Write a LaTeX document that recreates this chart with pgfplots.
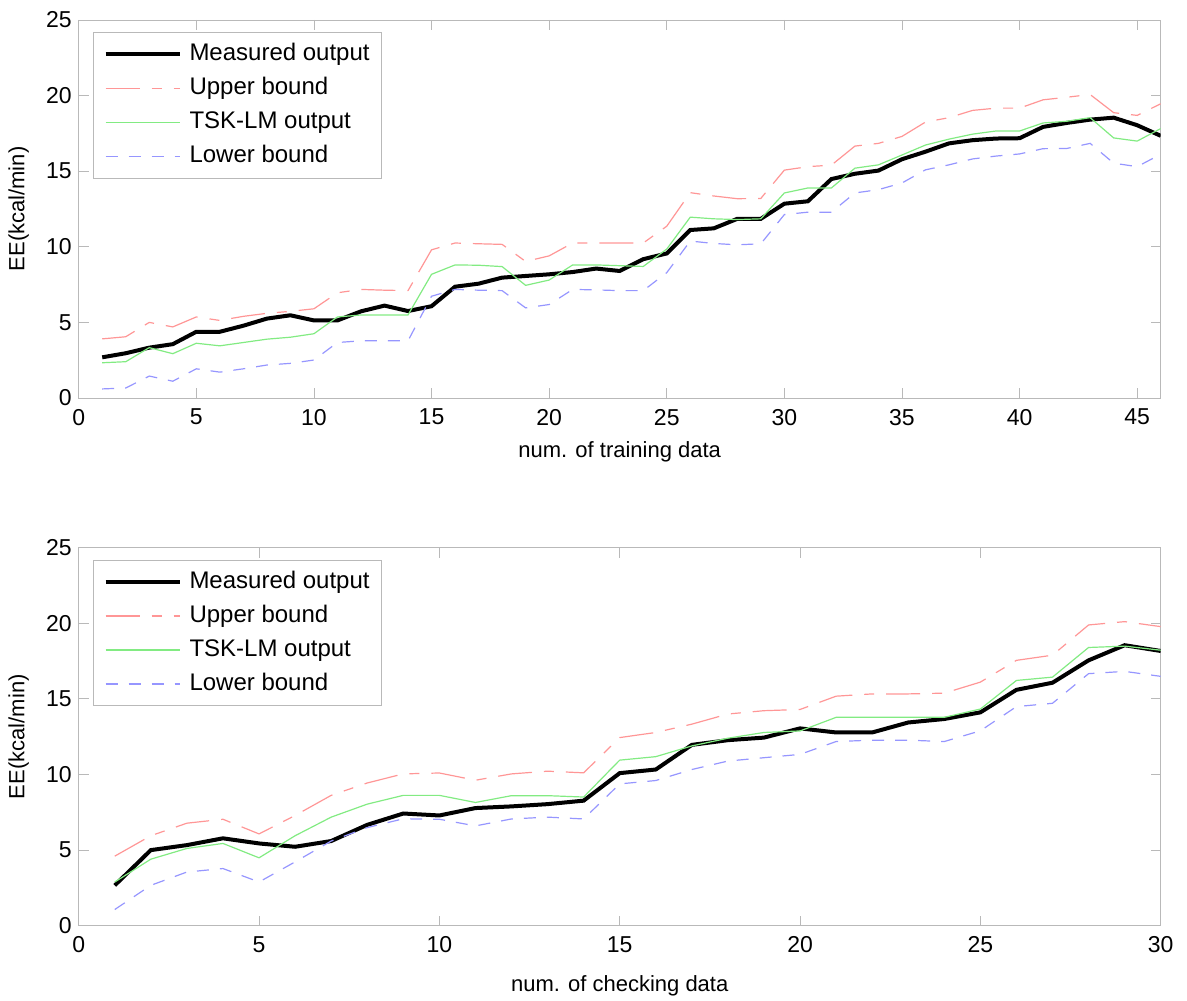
\documentclass[border=0pt]{standalone}
\usepackage{pgfplots}
\pgfplotsset{compat=1.18}
\usepackage{pgfplotstable}
\usepackage{fontspec}
\setmainfont{Liberation Sans}

\definecolor{upc}{RGB}{255,150,150}
\definecolor{tskc}{RGB}{130,235,130}
\definecolor{lowc}{RGB}{150,150,255}
\definecolor{boxc}{RGB}{185,185,185}

\tikzset{
  meas/.style={draw=black, line width=2pt},
  upb/.style={draw=upc, line width=0.6pt, dash pattern=on 17pt off 6pt on 5pt off 6pt},
  tskl/.style={draw=tskc, line width=0.6pt},
  lowb/.style={draw=lowc, line width=0.6pt, dash pattern=on 6pt off 5.5pt},
}

% training data: x, measured, upper, tsk, lower
\pgfplotstableread{
x meas up tsk low
1 2.69 3.91 2.33 0.60
2 2.96 4.05 2.40 0.66
3 3.33 5.00 3.33 1.45
4 3.56 4.70 2.93 1.11
5 4.38 5.36 3.62 1.93
6 4.38 5.13 3.45 1.71
7 4.78 5.40 3.67 1.93
8 5.25 5.60 3.89 2.18
9 5.47 5.73 4.02 2.29
10 5.13 5.90 4.25 2.51
11 5.13 6.96 5.36 3.67
12 5.73 7.18 5.49 3.78
13 6.11 7.13 5.49 3.78
14 5.75 7.10 5.49 3.78
15 6.07 9.80 8.18 6.73
16 7.36 10.25 8.80 7.18
17 7.56 10.20 8.78 7.13
18 7.96 10.16 8.69 7.10
19 8.07 9.03 7.45 5.96
20 8.18 9.40 7.80 6.18
21 8.33 10.25 8.80 7.18
22 8.56 10.25 8.80 7.15
23 8.40 10.25 8.75 7.10
24 9.18 10.25 8.70 7.10
25 9.56 11.36 9.85 8.29
26 11.11 13.58 11.96 10.38
27 11.22 13.36 11.85 10.22
28 11.85 13.18 11.80 10.13
29 11.85 13.20 11.85 10.20
30 12.85 15.07 13.56 12.13
31 13.01 15.30 13.89 12.29
32 14.48 15.40 13.89 12.29
33 14.83 16.66 15.20 13.56
34 15.04 16.84 15.42 13.78
35 15.79 17.30 16.07 14.22
36 16.29 18.25 16.73 15.09
37 16.84 18.54 17.12 15.42
38 17.05 19.02 17.45 15.81
39 17.16 19.17 17.66 16.00
40 17.18 19.17 17.66 16.14
41 17.93 19.72 18.19 16.49
42 18.19 19.89 18.30 16.50
43 18.41 20.07 18.54 16.84
44 18.54 18.87 17.20 15.53
45 18.04 18.69 16.99 15.30
46 17.34 19.46 17.82 16.12
}\traindata

% checking data
\pgfplotstableread{
x meas up tsk low
1 2.67 4.60 2.89 1.07
2 5.00 5.95 4.40 2.67
3 5.33 6.78 5.11 3.55
4 5.78 7.04 5.44 3.78
5 5.44 6.07 4.49 2.89
6 5.22 7.29 5.95 4.22
7 5.60 8.62 7.18 5.60
8 6.67 9.44 8.04 6.49
9 7.42 10.04 8.62 7.07
10 7.29 10.10 8.62 7.04
11 7.78 9.62 8.15 6.60
12 7.89 10.04 8.60 7.06
13 8.04 10.22 8.60 7.18
14 8.27 10.11 8.51 7.06
15 10.09 12.44 10.95 9.38
16 10.33 12.78 11.18 9.60
17 11.96 13.33 11.89 10.33
18 12.27 14.00 12.40 10.89
19 12.44 14.22 12.78 11.11
20 13.05 14.30 12.88 11.33
21 12.78 15.18 13.78 12.18
22 12.78 15.33 13.78 12.27
23 13.44 15.33 13.78 12.27
24 13.67 15.38 13.78 12.18
25 14.11 16.11 14.33 12.89
26 15.60 17.55 16.22 14.49
27 16.07 17.89 16.44 14.71
28 17.55 19.89 18.40 16.67
29 18.55 20.11 18.49 16.82
30 18.17 19.78 18.22 16.49
}\checkdata

\pgfplotsset{
  eeaxis/.style={
    scale only axis,
    width=541pt, height=189pt,
    ymin=0, ymax=25, ytick={0,5,...,25},
    axis line style={boxc},
    tick style={boxc, thin},
    major tick length=5pt,
    tick align=inside,
    tick label style={font=\fontsize{11.5}{13.8}\selectfont},
    label style={font=\fontsize{11}{13.2}\selectfont},
    /pgf/number format/assume math mode=true,
    xticklabel style={yshift=-2pt},
    ylabel={EE(kcal/min)},
    ylabel style={at={(axis description cs:-0.0555,0.5)}, anchor=center},
    legend style={at={(axis description cs:0,1)}, anchor=north west,
      xshift=7.2pt, yshift=-6pt, draw=boxc, inner xsep=5pt, inner ysep=4.2pt,
      row sep=3.5pt, column sep=3pt,
      nodes={text height=9pt, text depth=2.5pt, inner sep=1pt},
      cells={anchor=west},
      font=\fontsize{12}{14.4}\selectfont},
    legend image code/.code={\draw[##1] (0pt,0pt) -- (37pt,0pt);},
  }
}

\begin{document}
\begin{tikzpicture}
\path[use as bounding box] (-39.35pt,-37.15pt) rectangle (554.15pt,462.85pt);

% training
\begin{axis}[eeaxis, at={(0pt,263.85pt)}, anchor=south west,
  xmin=0, xmax=46, xtick={0,5,...,45},
  xlabel={num. of training data},
  xlabel style={at={(axis description cs:0.5,-0.143)}, anchor=center}]
  \addplot[meas] table[x=x, y=meas] {\traindata};
  \addplot[upb] table[x=x, y=up] {\traindata};
  \addplot[tskl] table[x=x, y=tsk] {\traindata};
  \addplot[lowb] table[x=x, y=low] {\traindata};
  \legend{Measured output, Upper bound, TSK-LM output, Lower bound}
\end{axis}

% checking
\begin{axis}[eeaxis, at={(0pt,0pt)}, anchor=south west,
  xmin=0, xmax=30, xtick={0,5,...,30},
  xlabel={num. of checking data},
  xlabel style={at={(axis description cs:0.5,-0.16)}, anchor=center}]
  \addplot[meas] table[x=x, y=meas] {\checkdata};
  \addplot[upb] table[x=x, y=up] {\checkdata};
  \addplot[tskl] table[x=x, y=tsk] {\checkdata};
  \addplot[lowb] table[x=x, y=low] {\checkdata};
  \legend{Measured output, Upper bound, TSK-LM output, Lower bound}
\end{axis}
\end{tikzpicture}
\end{document}
